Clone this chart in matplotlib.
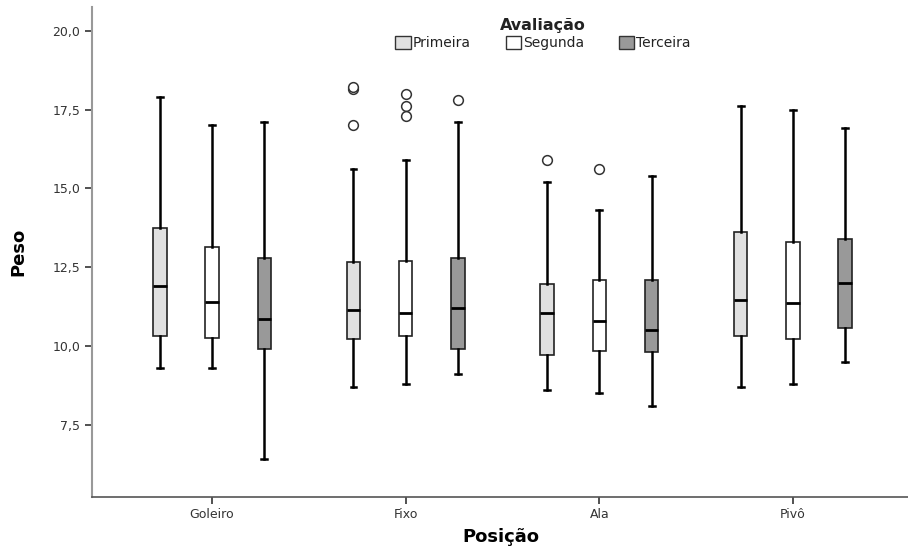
"""Boxplot of Peso by Posição and Avaliação."""

import matplotlib

matplotlib.use("Agg")
import matplotlib.pyplot as plt
from matplotlib.patches import Patch
from matplotlib.ticker import FuncFormatter

positions = ["Goleiro", "Fixo", "Ala", "Pivô"]
series = ["Primeira", "Segunda", "Terceira"]
colors = ["#e0e0e0", "#ffffff", "#999999"]

# per series, one value per position
whislo = {
    "Primeira": [9.3, 8.7, 8.6, 8.7],
    "Segunda": [9.3, 8.8, 8.5, 8.8],
    "Terceira": [6.4, 9.1, 8.1, 9.5],
}
q1 = {
    "Primeira": [10.3, 10.2, 9.7, 10.3],
    "Segunda": [10.25, 10.3, 9.85, 10.2],
    "Terceira": [9.9, 9.9, 9.8, 10.55],
}
med = {
    "Primeira": [11.9, 11.15, 11.05, 11.45],
    "Segunda": [11.4, 11.05, 10.8, 11.35],
    "Terceira": [10.85, 11.2, 10.5, 12.0],
}
q3 = {
    "Primeira": [13.75, 12.65, 11.95, 13.6],
    "Segunda": [13.15, 12.7, 12.1, 13.3],
    "Terceira": [12.8, 12.8, 12.1, 13.4],
}
whishi = {
    "Primeira": [17.9, 15.6, 15.2, 17.6],
    "Segunda": [17.0, 15.9, 14.3, 17.5],
    "Terceira": [17.1, 17.1, 15.4, 16.9],
}
outliers = {
    "Primeira": [[], [18.15, 18.2, 17.0], [15.9], []],
    "Segunda": [[], [18.0, 17.6, 17.3], [15.6], []],
    "Terceira": [[], [17.8], [], []],
}

fig = plt.figure(figsize=(9.08, 5.51), dpi=100)
ax = fig.add_axes([0.1013, 0.098, 0.9, 0.889])

offsets = [-0.27, 0.0, 0.27]
for s, name in enumerate(series):
    stats = []
    for i in range(len(positions)):
        stats.append(
            {
                "whislo": whislo[name][i],
                "q1": q1[name][i],
                "med": med[name][i],
                "q3": q3[name][i],
                "whishi": whishi[name][i],
                "fliers": outliers[name][i],
            }
        )
    ax.bxp(
        stats,
        positions=[i + offsets[s] for i in range(len(positions))],
        widths=0.07,
        patch_artist=True,
        boxprops=dict(facecolor=colors[s], edgecolor="#222222", linewidth=1.2),
        medianprops=dict(color="black", linewidth=2.0),
        whiskerprops=dict(color="black", linewidth=1.8),
        capprops=dict(color="black", linewidth=1.8),
        capwidths=0.03,
        flierprops=dict(marker="o", markerfacecolor="white", markeredgecolor="#333333",
                        markersize=7, markeredgewidth=1.1),
        manage_ticks=False,
    )

ax.set_xlim(-0.62, 3.6)
ax.set_ylim(5.2, 20.75)
ax.set_xticks(range(len(positions)))
ax.set_xticklabels(positions)
ax.set_yticks([7.5, 10.0, 12.5, 15.0, 17.5, 20.0])
ax.yaxis.set_major_formatter(FuncFormatter(lambda v, _: f"{v:.1f}".replace(".", ",")))
ax.tick_params(axis="both", labelsize=9, colors="#333333", length=5, width=1.2)
ax.tick_params(axis="x", pad=3)

for side in ["top", "right"]:
    ax.spines[side].set_visible(False)
ax.spines["left"].set_color("#999999")
ax.spines["left"].set_linewidth(1.5)
ax.spines["bottom"].set_color("#555555")
ax.spines["bottom"].set_linewidth(1.2)

ax.set_ylabel("Peso", fontsize=13, fontweight="bold", labelpad=18)
ax.set_xlabel("Posição", fontsize=13, fontweight="bold", labelpad=5)

handles = [Patch(facecolor=c, edgecolor="#333333", linewidth=1.0) for c in colors]
leg = fig.legend(
    handles,
    series,
    title="Avaliação",
    ncol=3,
    loc="upper center",
    bbox_to_anchor=(543 / 908, 0.99),
    frameon=False,
    fontsize=10,
    title_fontsize=11.5,
    handlelength=1.1,
    handleheight=1.1,
    handletextpad=0.15,
    columnspacing=2.5,
    borderaxespad=0.5,
    labelspacing=0.2,
)
leg.get_title().set_fontweight("bold")
leg.get_title().set_color("#222222")
for t in leg.get_texts():
    t.set_color("#222222")

fig.savefig("out.png", dpi=100)
